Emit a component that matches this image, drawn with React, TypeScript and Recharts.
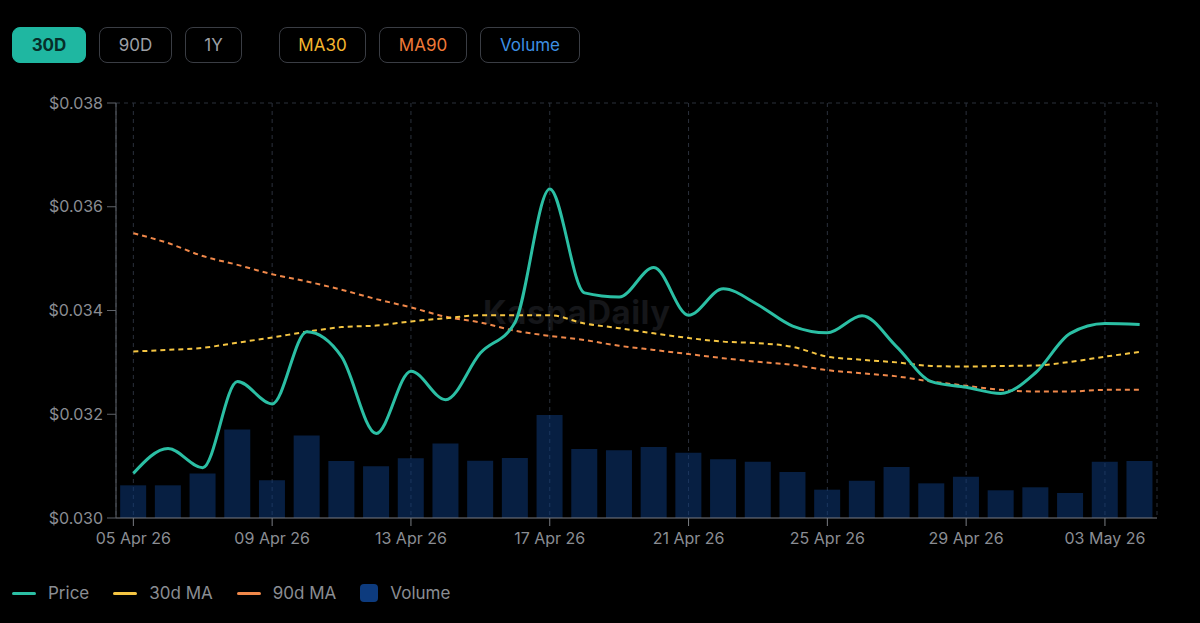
import { Bar, CartesianGrid, ComposedChart, Legend, Line, ReferenceLine, XAxis, YAxis } from "recharts";

const dates = [
  "05 Apr 26", "06 Apr 26", "07 Apr 26", "08 Apr 26", "09 Apr 26", "10 Apr 26",
  "11 Apr 26", "12 Apr 26", "13 Apr 26", "14 Apr 26", "15 Apr 26", "16 Apr 26",
  "17 Apr 26", "18 Apr 26", "19 Apr 26", "20 Apr 26", "21 Apr 26", "22 Apr 26",
  "23 Apr 26", "24 Apr 26", "25 Apr 26", "26 Apr 26", "27 Apr 26", "28 Apr 26",
  "29 Apr 26", "30 Apr 26", "01 May 26", "02 May 26", "03 May 26", "04 May 26",
];

const price = [
  0.03086, 0.03134, 0.03097, 0.03263, 0.0322, 0.03359, 0.03311, 0.03163, 0.03283, 0.03228,
  0.03318, 0.03377, 0.03634, 0.03434, 0.03426, 0.03483, 0.03391, 0.03442, 0.03411, 0.0337,
  0.03357, 0.0339, 0.0333, 0.03263, 0.03252, 0.0324, 0.0328, 0.03356, 0.03375, 0.03373,
];

const ma30 = [
  0.03321, 0.03324, 0.03328, 0.03338, 0.03348, 0.03359, 0.03368, 0.03371, 0.03379, 0.03385,
  0.03391, 0.03391, 0.03391, 0.03375, 0.03366, 0.03356, 0.03347, 0.0334, 0.03337, 0.0333,
  0.03311, 0.03305, 0.033, 0.03293, 0.03292, 0.03293, 0.03294, 0.03301, 0.03311, 0.0332,
];

const ma90 = [
  0.03549, 0.0353, 0.03505, 0.03488, 0.0347, 0.03456, 0.0344, 0.03422, 0.03406, 0.03388,
  0.03377, 0.03361, 0.03351, 0.03343, 0.03332, 0.03324, 0.03316, 0.03308, 0.03301, 0.03295,
  0.03285, 0.03279, 0.03273, 0.03263, 0.03255, 0.03247, 0.03244, 0.03244, 0.03247, 0.03247,
];

// volume in millions
const volume = [
  31.5, 31.5, 42.8, 85.2, 36.3, 79.4, 55.0, 49.8, 57.5, 71.7,
  55.3, 57.8, 99.3, 66.5, 65.3, 68.4, 63.0, 56.6, 54.3, 44.3,
  27.3, 36.0, 49.2, 33.4, 39.8, 26.7, 29.6, 24.1, 54.3, 55.0,
];

const priceTicks = [0.03, 0.032, 0.034, 0.036, 0.038];
const volumeDomain = [0, 400];
const rangeLabels = ["30D", "90D", "1Y"];
const overlayLabels = ["MA30", "MA90", "Volume"];
const legendOrder = ["Price", "30d MA", "90d MA", "Volume"];

const data = dates.map((date, i) => ({
  date,
  price: price[i],
  ma30: ma30[i],
  ma90: ma90[i],
  volume: volume[i],
}));

const gridColor = "#2a303b";
const tickColor = "#8a8d93";
const axisColor = "#5f636a";

const rangeWidths: Record<string, number> = { "30D": 74, "90D": 73, "1Y": 57 };
const overlayStyle: Record<string, { width: number; color: string }> = {
  MA30: { width: 87, color: "#f5b52e" },
  MA90: { width: 88, color: "#f07a38" },
  Volume: { width: 100, color: "#3d8fe3" },
};

function renderLegend(props: any) {
  const items = [...(props.payload || [])].sort(
    (a: any, b: any) => legendOrder.indexOf(a.value) - legendOrder.indexOf(b.value)
  );
  return (
    <div style={{ display: "flex", alignItems: "center", height: 24, paddingLeft: 12 }}>
      {items.map((item: any) => (
        <div key={item.value} style={{ display: "flex", alignItems: "center", marginRight: 24 }}>
          {item.type === "rect" ? (
            <span style={{ width: 18, height: 18, borderRadius: 4, background: item.color }} />
          ) : (
            <span style={{ width: 24, height: 3, borderRadius: 2, background: item.color }} />
          )}
          <span style={{ marginLeft: 12, color: tickColor, fontSize: 17 }}>{item.value}</span>
        </div>
      ))}
    </div>
  );
}

export default function App() {
  return (
    <div
      style={{
        position: "fixed",
        inset: 0,
        width: 1200,
        height: 623,
        background: "#000",
        fontFamily: "Inter, 'Noto Sans', sans-serif",
        overflow: "hidden",
      }}
    >
      <div style={{ position: "absolute", left: 12, top: 27, display: "flex", height: 36 }}>
        {rangeLabels.map((label, i) => (
          <div
            key={label}
            style={{
              width: rangeWidths[label],
              height: 36,
              boxSizing: "border-box",
              marginRight: 13,
              borderRadius: 8,
              border: i === 0 ? "1px solid #1fb7a1" : "1px solid #3a3d44",
              background: i === 0 ? "#1fb7a1" : "transparent",
              color: i === 0 ? "#062e29" : "#9c9fa5",
              fontWeight: i === 0 ? 700 : 400,
              fontSize: 17,
              display: "flex",
              alignItems: "center",
              justifyContent: "center",
            }}
          >
            {label}
          </div>
        ))}
        <div style={{ width: 24 }} />
        {overlayLabels.map((label) => (
          <div
            key={label}
            style={{
              width: overlayStyle[label].width,
              height: 36,
              boxSizing: "border-box",
              marginRight: 13,
              borderRadius: 8,
              border: "1px solid #3a3d44",
              color: overlayStyle[label].color,
              fontSize: 17,
              display: "flex",
              alignItems: "center",
              justifyContent: "center",
            }}
          >
            {label}
          </div>
        ))}
      </div>

      <div
        style={{
          position: "absolute",
          left: 483,
          top: 292,
          fontSize: 33,
          fontWeight: 700,
          color: "#151619",
          letterSpacing: 0.5,
        }}
      >
        KaspaDaily
      </div>

      <div style={{ position: "absolute", left: 0, top: 0 }}>
        <ComposedChart
          width={1200}
          height={623}
          data={data}
          margin={{ top: 103, right: 43, left: 0, bottom: 18 }}
          barCategoryGap="12%"
        >
          <CartesianGrid yAxisId="price" horizontal={false} stroke={gridColor} strokeDasharray="4 4" />
          <XAxis
            dataKey="date"
            interval={3}
            height={63}
            tickSize={8}
            tickMargin={7}
            tick={{ fill: tickColor, fontSize: 16 }}
            axisLine={{ stroke: "#7a7d83" }}
            tickLine={{ stroke: "#7a7d83" }}
          />
          <YAxis
            yAxisId="price"
            width={116}
            domain={[priceTicks[0], priceTicks[priceTicks.length - 1]]}
            ticks={priceTicks}
            allowDataOverflow
            tickSize={9}
            tickMargin={4}
            tickFormatter={(v: number) => `$${v.toFixed(3)}`}
            tick={{ fill: tickColor, fontSize: 16 }}
            axisLine={{ stroke: axisColor }}
            tickLine={{ stroke: axisColor }}
          />
          <YAxis
            yAxisId="volume"
            orientation="right"
            width={0}
            domain={volumeDomain}
            tick={false}
            tickLine={false}
            axisLine={{ stroke: gridColor, strokeDasharray: "4 4" }}
          />
          <ReferenceLine
            yAxisId="price"
            y={priceTicks[priceTicks.length - 1]}
            stroke={gridColor}
            strokeDasharray="4 4"
          />
          <Legend verticalAlign="bottom" align="left" content={renderLegend} />
          <Bar
            yAxisId="volume"
            dataKey="volume"
            name="Volume"
            fill="#0d3b7e"
            fillOpacity={0.52}
            isAnimationActive={false}
          />
          <Line
            yAxisId="price"
            type="monotone"
            dataKey="ma90"
            name="90d MA"
            stroke="#f0884a"
            strokeWidth={2}
            strokeDasharray="5 4"
            dot={false}
            activeDot={false}
            isAnimationActive={false}
          />
          <Line
            yAxisId="price"
            type="monotone"
            dataKey="ma30"
            name="30d MA"
            stroke="#f5c542"
            strokeWidth={2}
            strokeDasharray="5 4"
            dot={false}
            activeDot={false}
            isAnimationActive={false}
          />
          <Line
            yAxisId="price"
            type="monotone"
            dataKey="price"
            name="Price"
            stroke="#2bbfa4"
            strokeWidth={3}
            dot={false}
            activeDot={false}
            isAnimationActive={false}
          />
        </ComposedChart>
      </div>
    </div>
  );
}
